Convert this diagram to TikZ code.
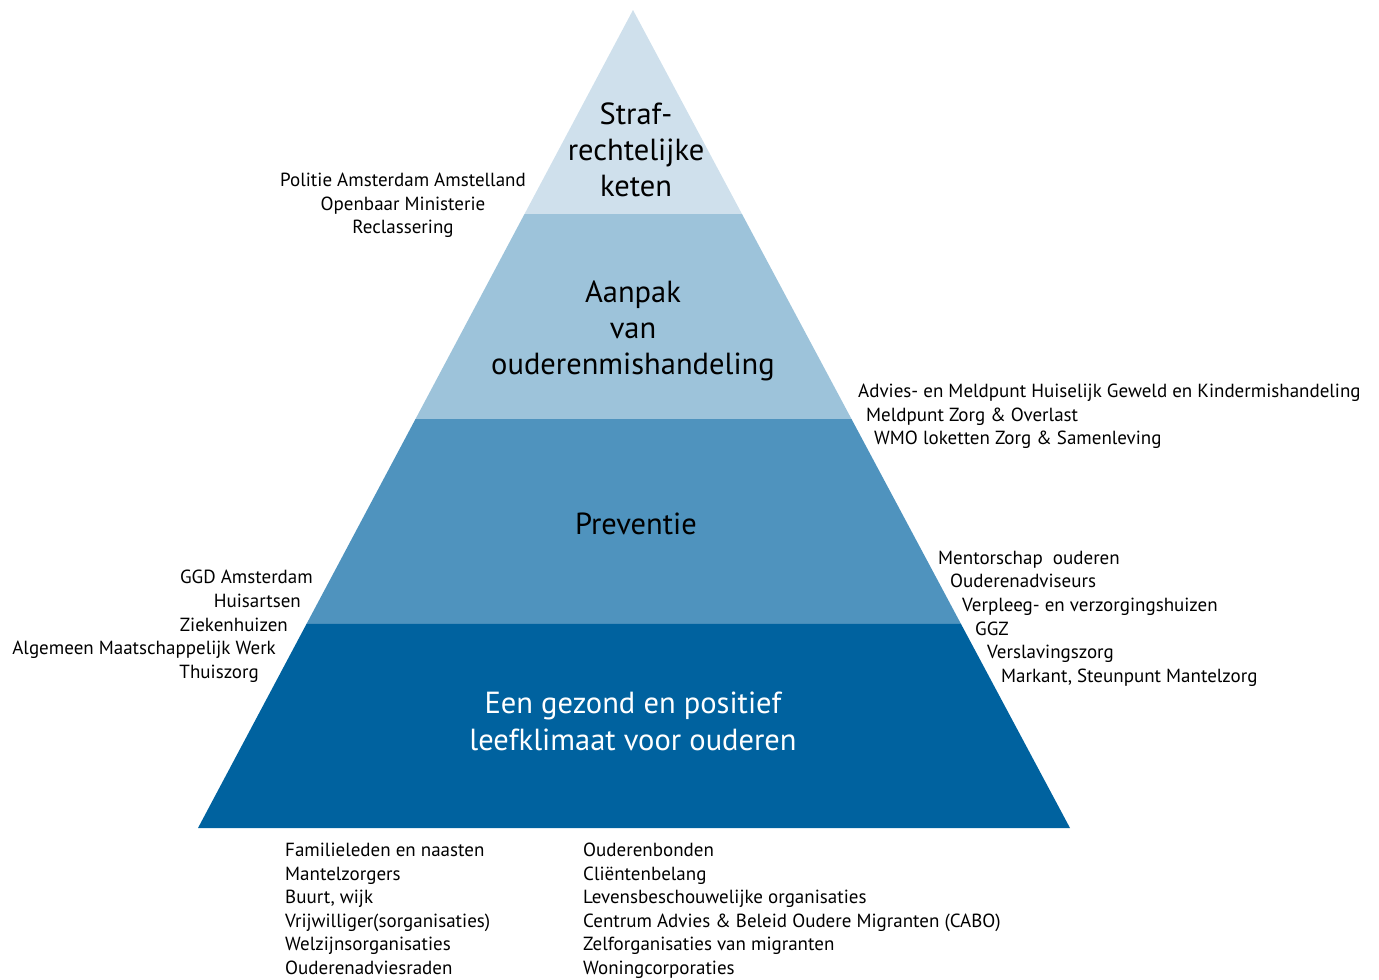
\documentclass[tikz,border=0pt]{standalone}
\usepackage{fontspec}
\setmainfont{PT Sans}
\definecolor{band1}{HTML}{CFE0EC}
\definecolor{band2}{HTML}{9DC3DA}
\definecolor{band3}{HTML}{4F93BE}
\definecolor{band4}{HTML}{00629F}
\begin{document}
\begin{tikzpicture}[x=1pt,y=-1pt,
  lbl/.style={inner sep=0pt, font=\fontsize{19}{23.5}\selectfont, text=black},
  big/.style={inner sep=0pt, anchor=base, font=\fontsize{30.5}{36}\selectfont}]
\useasboundingbox (0,0) rectangle (1379,980);
% pyramid coordinates
\coordinate (apex) at (633,10);
\coordinate (bl) at (198,828);
\coordinate (br) at (1070,828);
\path (apex) -- (bl) coordinate[pos=0.2494] (l1) coordinate[pos=0.5] (l2) coordinate[pos=0.7506] (l3);
\path (apex) -- (br) coordinate[pos=0.2494] (r1) coordinate[pos=0.5] (r2) coordinate[pos=0.7506] (r3);
\fill[band1] (apex) -- (r1) -- (l1) -- cycle;
\fill[band2] (l1) -- (r1) -- (r2) -- (l2) -- cycle;
\fill[band3] (l2) -- (r2) -- (r3) -- (l3) -- cycle;
\fill[band4] (l3) -- (r3) -- (br) -- (bl) -- cycle;
% band labels
\node[big] (t1a) at (636,124) {Straf-};
\node[big] (t1b) at (636,160) {rechtelijke};
\node[big] (t1c) at (636,196) {keten};
\node[big] (t2a) at (633,302) {Aanpak};
\node[big] (t2b) at (633,338) {van};
\node[big] (t2c) at (633,374) {ouderenmishandeling};
\node[big] (t3) at (636,534) {Preventie};
\node[big, text=white] (t4a) at (633,713) {Een gezond en positief};
\node[big, text=white] (t4b) at (633,750) {leefklimaat voor ouderen};
% top left
\tikzset{lbl/.append style={anchor=base}}
\node[lbl] (a1) at (403,186) {Politie Amsterdam Amstelland};
\node[lbl] (a2) at (403,210) {Openbaar Ministerie};
\node[lbl] (a3) at (403,233) {Reclassering};
% right middle
\node[lbl, anchor=base west] (b1) at (858,397) {Advies- en Meldpunt Huiselijk Geweld en Kindermishandeling};
\node[lbl, anchor=base west] (b2) at (866,421) {Meldpunt Zorg \& Overlast};
\node[lbl, anchor=base west] (b3) at (874,444) {WMO loketten Zorg \& Samenleving};
% left lower
\node[lbl, anchor=base east] (c1) at (313,583) {GGD Amsterdam};
\node[lbl, anchor=base east] (c2) at (301,607) {Huisartsen};
\node[lbl, anchor=base east] (c3) at (288,631) {Ziekenhuizen};
\node[lbl, anchor=base east] (c4) at (276,654) {Algemeen Maatschappelijk Werk};
\node[lbl, anchor=base east] (c5) at (259,678) {Thuiszorg};
% right lower
\node[lbl, anchor=base west] (d1) at (938,564) {Mentorschap\ \ ouderen};
\node[lbl, anchor=base west] (d2) at (950,587) {Ouderenadviseurs};
\node[lbl, anchor=base west] (d3) at (962,611) {Verpleeg- en verzorgingshuizen};
\node[lbl, anchor=base west] (d4) at (975,635) {GGZ};
\node[lbl, anchor=base west] (d5) at (987,658) {Verslavingszorg};
\node[lbl, anchor=base west] (d6) at (1001,682) {Markant, Steunpunt Mantelzorg};
% bottom columns
\node[lbl, anchor=base west] (e1) at (285,856) {Familieleden en naasten};
\node[lbl, anchor=base west] (e2) at (285,880) {Mantelzorgers};
\node[lbl, anchor=base west] (e3) at (285,903) {Buurt, wijk};
\node[lbl, anchor=base west] (e4) at (285,927) {Vrijwilliger(sorganisaties)};
\node[lbl, anchor=base west] (e5) at (285,950) {Welzijnsorganisaties};
\node[lbl, anchor=base west] (e6) at (285,974) {Ouderenadviesraden};
\node[lbl, anchor=base west] (f1) at (583,856) {Ouderenbonden};
\node[lbl, anchor=base west] (f2) at (583,880) {Cliëntenbelang};
\node[lbl, anchor=base west] (f3) at (583,903) {Levensbeschouwelijke organisaties};
\node[lbl, anchor=base west] (f4) at (583,927) {Centrum Advies \& Beleid Oudere Migranten (CABO)};
\node[lbl, anchor=base west] (f5) at (583,950) {Zelforganisaties van migranten};
\node[lbl, anchor=base west] (f6) at (583,974) {Woningcorporaties};
\end{tikzpicture}
\end{document}
